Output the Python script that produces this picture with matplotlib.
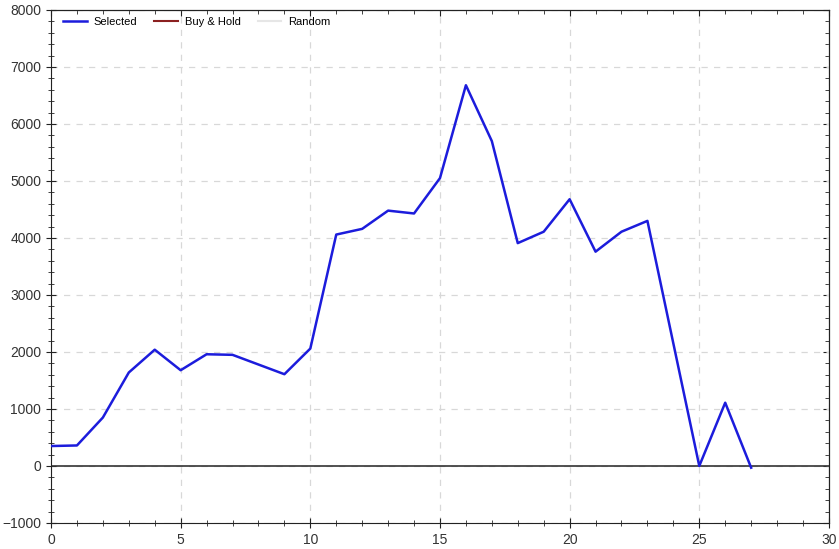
import matplotlib.pyplot as plt
from matplotlib.ticker import MultipleLocator

plt.rcParams['font.family'] = ['Liberation Sans', 'DejaVu Sans']

# values
periods = list(range(28))
selected = [350, 360, 850, 1640, 2040, 1680, 1960, 1950, 1780, 1610,
            2060, 4060, 4160, 4480, 4430, 5050, 6680, 5700, 3910, 4110,
            4680, 3760, 4110, 4300, 2150, 0, 1110, -30]

fig = plt.figure(figsize=(8.39, 5.49), dpi=100)
ax = fig.add_axes([0.0608, 0.0474, 0.9272, 0.9344])

ax.axhline(0, color='#333333', linewidth=1.2, zorder=1)
ax.plot(periods, selected, color='#1c1cdc', linewidth=1.8, label='Selected', zorder=3)
# legend-only series (not drawn on the chart)
ax.plot([], [], color='#8b2020', linewidth=1.5, label='Buy & Hold')
ax.plot([], [], color='#e6e6e6', linewidth=1.5, label='Random')

ax.set_xlim(0, 30)
ax.set_ylim(-1000, 8000)
ax.xaxis.set_major_locator(MultipleLocator(5))
ax.xaxis.set_minor_locator(MultipleLocator(1))
ax.yaxis.set_major_locator(MultipleLocator(1000))
ax.yaxis.set_minor_locator(MultipleLocator(200))

# left/bottom ticks cross the spine, top/right point inward
ax.tick_params(which='both', direction='inout', labelsize=10, colors='#222222',
               labelcolor='#333333')
ax.tick_params(which='major', length=7)
ax.tick_params(which='minor', length=5)
ax2 = ax.secondary_xaxis('top')
ax2.xaxis.set_major_locator(MultipleLocator(5))
ax2.xaxis.set_minor_locator(MultipleLocator(1))
ax2.tick_params(which='both', direction='in', labeltop=False, colors='#222222')
ax2.tick_params(which='major', length=4)
ax2.tick_params(which='minor', length=3)
ay2 = ax.secondary_yaxis('right')
ay2.yaxis.set_major_locator(MultipleLocator(1000))
ay2.yaxis.set_minor_locator(MultipleLocator(200))
ay2.tick_params(which='both', direction='in', labelright=False, colors='#222222')
ay2.tick_params(which='major', length=4)
ay2.tick_params(which='minor', length=3)

ax.grid(True, which='major', linestyle=(0, (5, 5)), color='#d8d8d8', linewidth=0.9)
ax.set_axisbelow(True)
for s in ax.spines.values():
    s.set_color('#222222')

ax.legend(loc='upper left', bbox_to_anchor=(0.006, 1.0), ncol=3, frameon=False,
          fontsize=8, handlelength=2.15, handletextpad=0.63, columnspacing=1.5,
          borderaxespad=0.3, borderpad=0.35)

fig.savefig('out.png', dpi=100)
